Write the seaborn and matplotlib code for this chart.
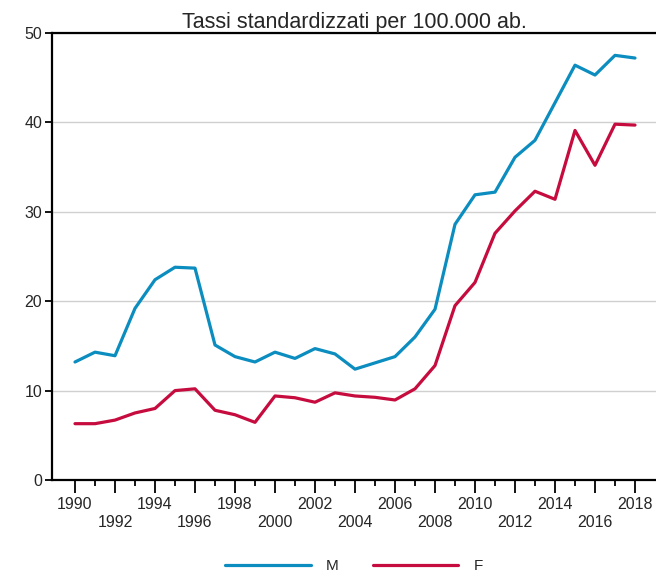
import numpy as np
import pandas as pd
import matplotlib
matplotlib.use("Agg")
import matplotlib.pyplot as plt
import seaborn as sns

years = list(range(1990, 2019))
maschi = [13.2, 14.3, 13.9, 19.2, 22.4, 23.8, 23.7, 15.1, 13.8, 13.2,
          14.3, 13.6, 14.7, 14.1, 12.4, 13.1, 13.8, 16.0, 19.1, 28.6,
          31.9, 32.2, 36.1, 38.0, 42.2, 46.4, 45.3, 47.5, 47.2]
femmine = [6.3, 6.3, 6.7, 7.5, 8.0, 10.0, 10.2, 7.8, 7.3, 6.45,
           9.4, 9.2, 8.7, 9.75, 9.4, 9.25, 8.95, 10.2, 12.8, 19.5,
           22.1, 27.6, 30.1, 32.3, 31.4, 39.1, 35.2, 39.8, 39.7]
series_labels = ["M", "F"]
colors = ["#0C8DBF", "#C60C3E"]
title = "Tassi standardizzati per 100.000 ab."

df = pd.DataFrame({
    "anno": years * 2,
    "tasso": maschi + femmine,
    "sesso": [series_labels[0]] * len(years) + [series_labels[1]] * len(years),
})

sns.set_theme(style="white")
plt.rcParams["font.family"] = ["Liberation Sans", "DejaVu Sans"]

fig = plt.figure(figsize=(6.56, 5.76), dpi=100)
ax = fig.add_axes([52 / 656, 1 - 480 / 576, 1 - 52 / 656, (480 - 33) / 576])

sns.lineplot(data=df, x="anno", y="tasso", hue="sesso",
             palette=dict(zip(series_labels, colors)), linewidth=2.3,
             ax=ax, legend=True)

ax.set_xlim(1988.85, 2019.05)
ax.set_ylim(0, 50)
ax.set_yticks([0, 10, 20, 30, 40, 50])
ax.yaxis.grid(True, color="#d0d0d0", linewidth=1)
ax.set_axisbelow(True)

# major ticks on even years with labels in two staggered rows, minor on odd years
even_years = [y for y in years if y % 2 == 0]
labels = [str(y) if i % 2 == 0 else "\n" + str(y) for i, y in enumerate(even_years)]
ax.set_xticks(even_years)
ax.set_xticklabels(labels, linespacing=1.25)
ax.set_xticks([y for y in years if y % 2 == 1], minor=True)
ax.tick_params(axis="x", which="major", direction="out", length=9, width=1.3,
               color="black", labelsize=11.5, pad=3, bottom=True)
ax.tick_params(axis="x", which="minor", direction="out", length=4, width=1.3,
               color="black", bottom=True)
ax.tick_params(axis="y", which="major", direction="out", length=5, width=1.3,
               color="black", labelsize=11.5, pad=2, left=True)

for side in ["left", "bottom", "top"]:
    ax.spines[side].set_visible(True)
    ax.spines[side].set_color("black")
    ax.spines[side].set_linewidth(1.6)
ax.spines["right"].set_visible(False)

ax.set_xlabel("")
ax.set_ylabel("")
ax.set_title(title, fontsize=15.5, pad=3)

handles, lbls = ax.get_legend_handles_labels()
ax.legend(handles, lbls, loc="center", bbox_to_anchor=(0.5, -0.193),
          bbox_transform=ax.transAxes, ncol=2, frameon=False, fontsize=11,
          handlelength=5.6, handletextpad=1.0, columnspacing=2.2)

fig.savefig("out.png", dpi=100)
